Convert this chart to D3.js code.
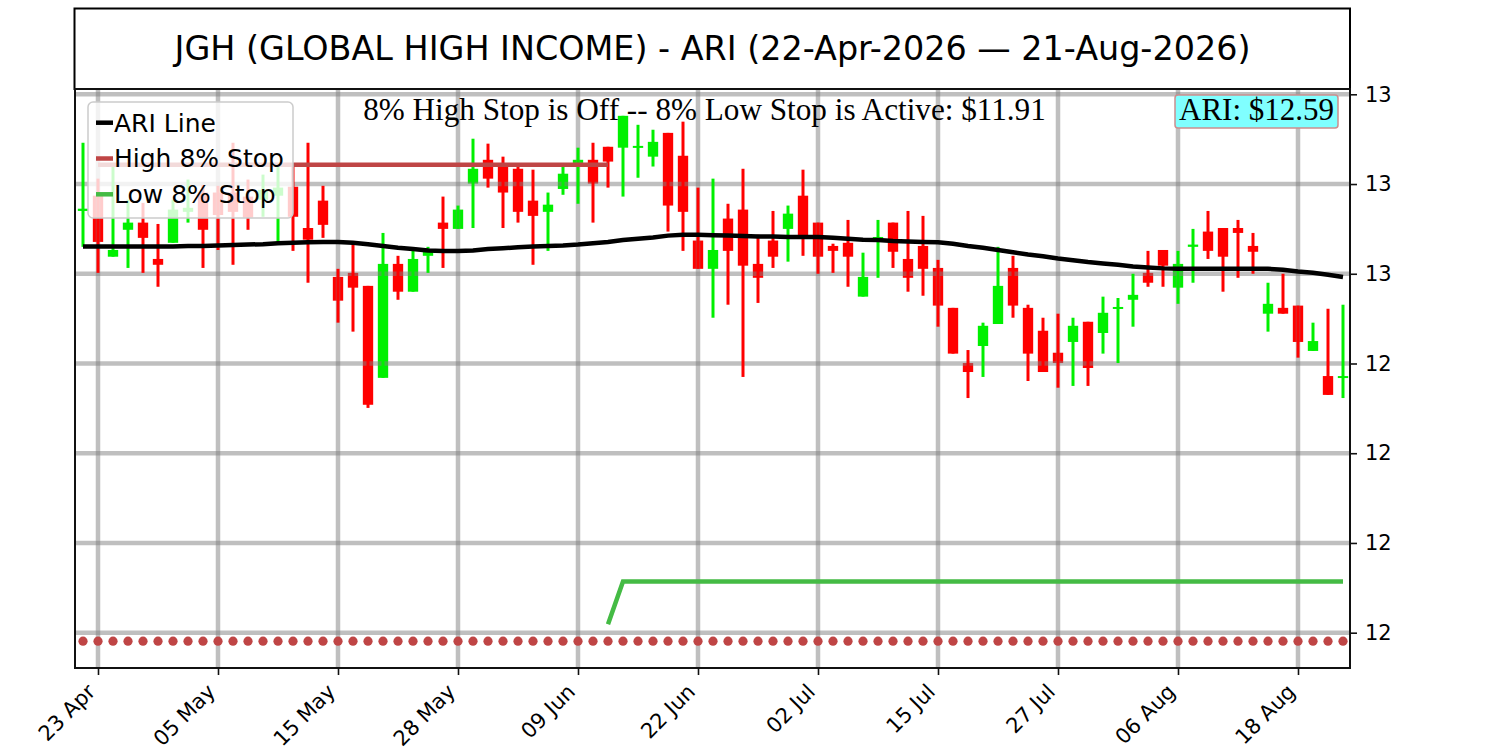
<!DOCTYPE html>
<html>
<head>
<meta charset="utf-8">
<script src="https://cdn.jsdelivr.net/npm/d3@7/dist/d3.min.js"></script>
<style>
  html, body { margin: 0; padding: 0; background: #ffffff; }
  svg { display: block; }
</style>
</head>
<body>
<svg id="chart" width="1500" height="750"></svg>
<script>
// ---------------- DATA ----------------
const dates = [
  "2026-04-22","2026-04-23","2026-04-24","2026-04-27","2026-04-28","2026-04-29","2026-04-30",
  "2026-05-01","2026-05-04","2026-05-05","2026-05-06","2026-05-07","2026-05-08","2026-05-11",
  "2026-05-12","2026-05-13","2026-05-14","2026-05-15","2026-05-18","2026-05-19","2026-05-20",
  "2026-05-21","2026-05-22","2026-05-26","2026-05-27","2026-05-28","2026-05-29","2026-06-01",
  "2026-06-02","2026-06-03","2026-06-04","2026-06-05","2026-06-08","2026-06-09","2026-06-10",
  "2026-06-11","2026-06-12","2026-06-15","2026-06-16","2026-06-17","2026-06-18","2026-06-22",
  "2026-06-23","2026-06-24","2026-06-25","2026-06-26","2026-06-29","2026-06-30","2026-07-01",
  "2026-07-02","2026-07-06","2026-07-07","2026-07-08","2026-07-09","2026-07-10","2026-07-13",
  "2026-07-14","2026-07-15","2026-07-16","2026-07-17","2026-07-20","2026-07-21","2026-07-22",
  "2026-07-23","2026-07-24","2026-07-27","2026-07-28","2026-07-29","2026-07-30","2026-07-31",
  "2026-08-03","2026-08-04","2026-08-05","2026-08-06","2026-08-07","2026-08-10","2026-08-11",
  "2026-08-12","2026-08-13","2026-08-14","2026-08-17","2026-08-18","2026-08-19","2026-08-20",
  "2026-08-21"
];

const opens = [
  12.740,12.774,12.638,12.698,12.714,12.633,12.669,12.738,12.781,12.781,
  12.781,12.772,12.765,12.774,12.794,12.702,12.763,12.593,12.602,12.573,
  12.368,12.622,12.560,12.640,12.714,12.700,12.801,12.854,12.843,12.834,
  12.763,12.738,12.789,12.847,12.854,12.883,12.881,12.881,12.861,12.914,
  12.863,12.674,12.611,12.723,12.743,12.622,12.674,12.700,12.774,12.714,
  12.662,12.669,12.549,12.678,12.714,12.633,12.662,12.613,12.524,12.401,
  12.439,12.488,12.613,12.524,12.473,12.424,12.448,12.493,12.468,12.522,
  12.542,12.602,12.653,12.569,12.660,12.694,12.702,12.702,12.662,12.511,
  12.524,12.529,12.428,12.372,12.370
];
const highs = [
  12.892,12.812,12.847,12.765,12.758,12.711,12.765,12.810,12.798,12.796,
  12.892,12.810,12.821,12.843,12.839,12.892,12.796,12.611,12.667,12.573,
  12.691,12.640,12.651,12.660,12.772,12.752,12.901,12.890,12.861,12.841,
  12.832,12.781,12.841,12.881,12.892,12.883,12.952,12.932,12.921,12.914,
  12.939,12.792,12.812,12.756,12.834,12.687,12.740,12.752,12.832,12.714,
  12.667,12.720,12.647,12.720,12.714,12.740,12.729,12.631,12.524,12.430,
  12.491,12.660,12.640,12.531,12.502,12.511,12.502,12.493,12.549,12.546,
  12.600,12.651,12.653,12.651,12.700,12.740,12.702,12.720,12.691,12.580,
  12.600,12.529,12.491,12.522,12.531
];
const lows = [
  12.660,12.602,12.638,12.613,12.602,12.571,12.669,12.714,12.613,12.653,
  12.620,12.698,12.727,12.671,12.651,12.580,12.680,12.491,12.471,12.301,
  12.368,12.542,12.560,12.602,12.613,12.700,12.702,12.792,12.702,12.714,
  12.620,12.651,12.776,12.756,12.714,12.792,12.772,12.814,12.839,12.694,
  12.651,12.611,12.502,12.531,12.370,12.535,12.613,12.627,12.640,12.600,
  12.602,12.571,12.549,12.591,12.613,12.560,12.551,12.482,12.422,12.323,
  12.370,12.488,12.502,12.361,12.381,12.346,12.350,12.350,12.422,12.401,
  12.482,12.571,12.571,12.533,12.580,12.633,12.560,12.591,12.600,12.471,
  12.511,12.413,12.428,12.330,12.323
];
const closes = [
  12.745,12.671,12.653,12.714,12.680,12.620,12.743,12.747,12.698,12.731,
  12.738,12.725,12.787,12.792,12.727,12.676,12.709,12.540,12.569,12.308,
  12.622,12.560,12.633,12.649,12.700,12.743,12.834,12.812,12.781,12.738,
  12.729,12.754,12.823,12.854,12.801,12.850,12.952,12.885,12.894,12.752,
  12.738,12.611,12.653,12.651,12.618,12.591,12.638,12.734,12.682,12.638,
  12.651,12.638,12.593,12.682,12.649,12.591,12.611,12.529,12.422,12.381,
  12.484,12.573,12.529,12.422,12.381,12.401,12.484,12.390,12.513,12.526,
  12.553,12.580,12.618,12.622,12.665,12.651,12.638,12.691,12.649,12.533,
  12.511,12.448,12.450,12.330,12.372
];
const ariLine = [
  12.661,12.661,12.661,12.661,12.661,12.661,12.661,12.662,12.662,12.663,
  12.664,12.665,12.666,12.668,12.669,12.670,12.671,12.671,12.669,12.666,
  12.662,12.658,12.655,12.652,12.651,12.651,12.652,12.655,12.657,12.659,
  12.661,12.662,12.663,12.665,12.668,12.671,12.675,12.678,12.681,12.685,
  12.687,12.687,12.686,12.685,12.684,12.683,12.683,12.682,12.682,12.682,
  12.680,12.678,12.676,12.675,12.673,12.672,12.671,12.670,12.667,12.662,
  12.658,12.653,12.648,12.643,12.639,12.634,12.630,12.626,12.623,12.620,
  12.616,12.614,12.612,12.611,12.611,12.611,12.611,12.611,12.611,12.611,
  12.609,12.605,12.602,12.598,12.593
];
const highStop = [
  null,12.843,12.843,12.843,12.843,12.843,12.843,12.843,12.843,12.843,
  12.843,12.843,12.843,12.843,12.843,12.843,12.843,12.843,12.843,12.843,
  12.843,12.843,12.843,12.843,12.843,12.843,12.843,12.843,12.843,12.843,
  12.843,12.843,12.843,12.843,12.843,12.843,null,null,null,null,
  null,null,null,null,null,null,null,null,null,null,
  null,null,null,null,null,null,null,null,null,null,
  null,null,null,null,null,null,null,null,null,null,
  null,null,null,null,null,null,null,null,null,null,
  null,null,null,null,null
];
const lowStop = [
  null,null,null,null,null,null,null,null,null,null,
  null,null,null,null,null,null,null,null,null,null,
  null,null,null,null,null,null,null,null,null,null,
  null,null,null,null,null,11.819,11.914,11.914,11.914,11.914,
  11.914,11.914,11.914,11.914,11.914,11.914,11.914,11.914,11.914,11.914,
  11.914,11.914,11.914,11.914,11.914,11.914,11.914,11.914,11.914,11.914,
  11.914,11.914,11.914,11.914,11.914,11.914,11.914,11.914,11.914,11.914,
  11.914,11.914,11.914,11.914,11.914,11.914,11.914,11.914,11.914,11.914,
  11.914,11.914,11.914,11.914,11.914
];
const lowMarkers = [
  11.781,11.781,11.781,11.781,11.781,11.781,11.781,11.781,11.781,11.781,
  11.781,11.781,11.781,11.781,11.781,11.781,11.781,11.781,11.781,11.781,
  11.781,11.781,11.781,11.781,11.781,11.781,11.781,11.781,11.781,11.781,
  11.781,11.781,11.781,11.781,11.781,11.781,11.781,11.781,11.781,11.781,
  11.781,11.781,11.781,11.781,11.781,11.781,11.781,11.781,11.781,11.781,
  11.781,11.781,11.781,11.781,11.781,11.781,11.781,11.781,11.781,11.781,
  11.781,11.781,11.781,11.781,11.781,11.781,11.781,11.781,11.781,11.781,
  11.781,11.781,11.781,11.781,11.781,11.781,11.781,11.781,11.781,11.781,
  11.781,11.781,11.781,11.781,11.781
];

const xTickIndex  = [1, 9, 17, 25, 33, 41, 49, 57, 65, 73, 81];
const xTickLabels = ["23 Apr","05 May","15 May","28 May","09 Jun","22 Jun","02 Jul","15 Jul","27 Jul","06 Aug","18 Aug"];
const yTickValues = [11.8, 12.0, 12.2, 12.4, 12.6, 12.8, 13.0];
const yTickLabels = ["12","12","12","12","13","13","13"];

const titleText  = "JGH (GLOBAL HIGH INCOME) - ARI (22-Apr-2026 \u2014 21-Aug-2026)";
const statusText = "8% High Stop is Off -- 8% Low Stop is Active: $11.91";
const ariText    = "ARI: $12.59";
const legendLabels = ["ARI Line", "High 8% Stop", "Low 8% Stop"];

// ---------------- LAYOUT ----------------
const L = 75, R = 1350, T = 89, B = 668;
const svg = d3.select("#chart");
const sans = "'DejaVu Sans', Verdana, sans-serif";
const serif = "'Liberation Serif', 'Times New Roman', serif";
const RED = "#ff0000", GREEN = "#00f000";
const STOPRED = "#bf4545", STOPGREEN = "#44bb44";

const x = d3.scaleLinear().domain([-0.5333, 84.4667]).range([L, R]);
const y = d3.scaleLinear().domain([11.7213, 13.0118]).range([B, T]);

const idx = d3.range(dates.length);
const candles = idx.map(i => ({i, o: opens[i], h: highs[i], l: lows[i], c: closes[i]}));
const bw = x(0.345) - x(0);

// title box
svg.append("rect").attr("x", 74.5).attr("y", 8.5).attr("width", R - 74.5).attr("height", T - 8.5)
  .attr("fill", "none").attr("stroke", "#000").attr("stroke-width", 2);
svg.append("text").attr("x", (L + R) / 2).attr("y", 60).attr("text-anchor", "middle")
  .attr("font-family", sans).attr("font-size", 33.4).attr("fill", "#000").text(titleText);

const plot = svg.append("g");

// candle bodies
plot.selectAll("rect.body").data(candles).join("rect").attr("class", "body")
  .attr("x", d => x(d.i) - bw)
  .attr("width", 2 * bw)
  .attr("y", d => y(Math.max(d.o, d.c)))
  .attr("height", d => Math.max(2, Math.abs(y(d.o) - y(d.c))))
  .attr("fill", d => d.c >= d.o ? GREEN : RED);

// grid
const grid = plot.append("g").attr("stroke", "#808080").attr("stroke-opacity", 0.5).attr("stroke-width", 4.5);
grid.selectAll("line.v").data(xTickIndex).join("line")
  .attr("x1", d => x(d)).attr("x2", d => x(d)).attr("y1", T).attr("y2", B);
grid.selectAll("line.h").data(yTickValues).join("line")
  .attr("x1", L).attr("x2", R).attr("y1", d => y(d)).attr("y2", d => y(d));

// wicks
plot.selectAll("line.wick").data(candles).join("line").attr("class", "wick")
  .attr("x1", d => x(d.i)).attr("x2", d => x(d.i))
  .attr("y1", d => y(d.h)).attr("y2", d => y(d.l))
  .attr("stroke", d => d.c >= d.o ? GREEN : RED).attr("stroke-width", 3);

// lines
const lineGen = d3.line().defined(d => d.v !== null).x(d => x(d.i)).y(d => y(d.v));
plot.append("path").datum(idx.map(i => ({i, v: ariLine[i]})))
  .attr("d", lineGen).attr("fill", "none").attr("stroke", "#000").attr("stroke-width", 4.5);
plot.append("path").datum(idx.map(i => ({i, v: highStop[i]})))
  .attr("d", lineGen).attr("fill", "none").attr("stroke", STOPRED).attr("stroke-width", 4.5);
plot.append("path").datum(idx.map(i => ({i, v: lowStop[i]})))
  .attr("d", lineGen).attr("fill", "none").attr("stroke", STOPGREEN).attr("stroke-width", 4.5);

// dots
plot.selectAll("circle.m").data(idx).join("circle").attr("class", "m")
  .attr("cx", i => x(i)).attr("cy", i => y(lowMarkers[i])).attr("r", 4.6).attr("fill", STOPRED);

// frame
svg.append("rect").attr("x", L).attr("y", T).attr("width", R - L).attr("height", B - T)
  .attr("fill", "none").attr("stroke", "#111").attr("stroke-width", 2);

// axes
const yAxis = d3.axisRight(y).tickValues(yTickValues).tickFormat((d, k) => yTickLabels[k])
  .tickSize(7).tickPadding(8);
const gy = svg.append("g").attr("transform", `translate(${R},0)`).call(yAxis);
gy.select(".domain").remove();
gy.selectAll("line").attr("stroke", "#111").attr("stroke-width", 1.6);
gy.selectAll("text").attr("font-family", sans).attr("font-size", 21).attr("fill", "#000");

const xAxis = d3.axisBottom(x).tickValues(xTickIndex).tickFormat((d, k) => xTickLabels[k]).tickSize(7);
const gx = svg.append("g").attr("transform", `translate(0,${B})`).call(xAxis);
gx.select(".domain").remove();
gx.selectAll("line").attr("stroke", "#111").attr("stroke-width", 1.6);
gx.selectAll("text").attr("font-family", sans).attr("font-size", 21).attr("fill", "#000")
  .attr("text-anchor", "end").attr("x", 0).attr("y", 0).attr("dy", 0)
  .attr("transform", "translate(-2,25) rotate(-45)");

// legend
const lg = svg.append("g");
lg.append("rect").attr("x", 88).attr("y", 102).attr("width", 205).attr("height", 116).attr("rx", 5)
  .attr("fill", "#fff").attr("fill-opacity", 0.8).attr("stroke", "#cccccc").attr("stroke-width", 1.5);
const legColors = ["#000", STOPRED, STOPGREEN];
legendLabels.forEach((lab, k) => {
  const yy = 122.7 + k * 35.8;
  lg.append("line").attr("x1", 96).attr("x2", 113).attr("y1", yy).attr("y2", yy)
    .attr("stroke", legColors[k]).attr("stroke-width", 4.5);
  lg.append("text").attr("x", 114).attr("y", yy + 8.8).attr("font-family", sans).attr("font-size", 25)
    .attr("fill", "#000").text(lab);
});

// status text
svg.append("text").attr("x", (L + R) / 2 - 8).attr("y", 120).attr("text-anchor", "middle")
  .attr("font-family", serif).attr("font-size", 31.2).attr("fill", "#000").text(statusText);

// ARI box
svg.append("rect").attr("x", 1175).attr("y", 95).attr("width", 163).attr("height", 33).attr("rx", 3)
  .attr("fill", "#80ffff").attr("stroke", "#cc8e8e").attr("stroke-width", 1.5);
svg.append("text").attr("x", 1334).attr("y", 119.5).attr("text-anchor", "end")
  .attr("font-family", serif).attr("font-size", 31).attr("fill", "#000").text(ariText);
</script>
</body>
</html>
